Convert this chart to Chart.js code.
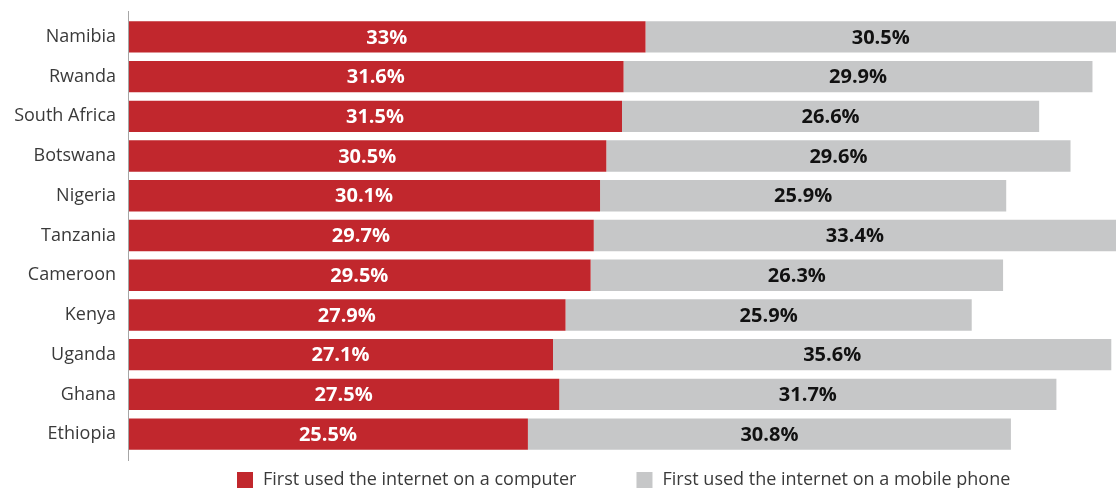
<!DOCTYPE html>
<html>
<head>
<meta charset="utf-8">
<script src="https://cdn.jsdelivr.net/npm/chart.js@4.4.0/dist/chart.umd.min.js"></script>
<style>
  html, body { margin: 0; padding: 0; background: #fff; }
  #wrap { width: 1116px; height: 488px; }
</style>
</head>
<body>
<div id="wrap"><canvas id="firstUseChart"></canvas></div>
<script>
const countries = ['Namibia', 'Rwanda', 'South Africa', 'Botswana', 'Nigeria', 'Tanzania',
  'Cameroon', 'Kenya', 'Uganda', 'Ghana', 'Ethiopia'];
const computerFirst = [33, 31.6, 31.5, 30.5, 30.1, 29.7, 29.5, 27.9, 27.1, 27.5, 25.5];
const mobileFirst = [30.5, 29.9, 26.6, 29.6, 25.9, 33.4, 26.3, 25.9, 35.6, 31.7, 30.8];
const seriesNames = ['First used the internet on a computer', 'First used the internet on a mobile phone'];

const RED = '#c1272d';
const GREY = '#c6c7c8';
const FONT = '"Open Sans", "Noto Sans", sans-serif';

// values printed in the middle of each visible bar segment
const barValues = {
  id: 'barValues',
  afterDatasetsDraw(chart) {
    const { ctx, chartArea } = chart;
    ctx.save();
    ctx.font = 'bold 20px ' + FONT;
    ctx.textAlign = 'center';
    ctx.textBaseline = 'middle';
    chart.data.datasets.forEach((ds, i) => {
      chart.getDatasetMeta(i).data.forEach((bar, j) => {
        const left = Math.max(bar.base, chartArea.left);
        const right = Math.min(bar.x, chartArea.right);
        ctx.fillStyle = i === 0 ? '#fff' : '#111';
        ctx.fillText(ds.data[j] + '%', (left + right) / 2, bar.y + 1);
      });
    });
    ctx.restore();
  }
};

// left axis line and the legend row underneath
const frame = {
  id: 'frame',
  afterDraw(chart) {
    const { ctx, chartArea } = chart;
    ctx.save();
    ctx.strokeStyle = '#a6a6a6';
    ctx.lineWidth = 1;
    ctx.beginPath();
    ctx.moveTo(chartArea.left + 0.5, chartArea.top - 6);
    ctx.lineTo(chartArea.left + 0.5, chartArea.bottom + 7);
    ctx.stroke();

    ctx.font = '18px ' + FONT;
    ctx.textBaseline = 'middle';
    const y = 480;
    let x = 237;
    chart.data.datasets.forEach((ds) => {
      ctx.fillStyle = ds.backgroundColor;
      ctx.fillRect(x, y - 8, 16, 16);
      ctx.fillStyle = '#3a3a3a';
      ctx.fillText(ds.label, x + 26, y);
      x += 26 + ctx.measureText(ds.label).width + 60;
    });
    ctx.restore();
  }
};

new Chart(document.getElementById('firstUseChart'), {
  type: 'bar',
  data: {
    labels: countries,
    datasets: [
      { label: seriesNames[0], data: computerFirst, backgroundColor: RED },
      { label: seriesNames[1], data: mobileFirst, backgroundColor: GREY }
    ]
  },
  options: {
    indexAxis: 'y',
    responsive: true,
    maintainAspectRatio: false,
    animation: false,
    layout: { padding: { top: 17, bottom: 34, left: 0, right: 0 } },
    datasets: { bar: { barPercentage: 0.79, categoryPercentage: 1 } },
    scales: {
      x: {
        stacked: true,
        min: 0,
        max: 63,
        display: false
      },
      y: {
        stacked: true,
        grid: { display: false, drawTicks: false },
        border: { display: false },
        ticks: {
          color: '#3a3a3a',
          font: { family: FONT, size: 18 },
          padding: 12
        },
        afterFit(scale) {
          scale.width = 128;
          scale.paddingTop = 0;
          scale.paddingBottom = 0;
        }
      }
    },
    plugins: {
      legend: { display: false },
      tooltip: { enabled: false }
    }
  },
  plugins: [barValues, frame]
});
</script>
</body>
</html>
